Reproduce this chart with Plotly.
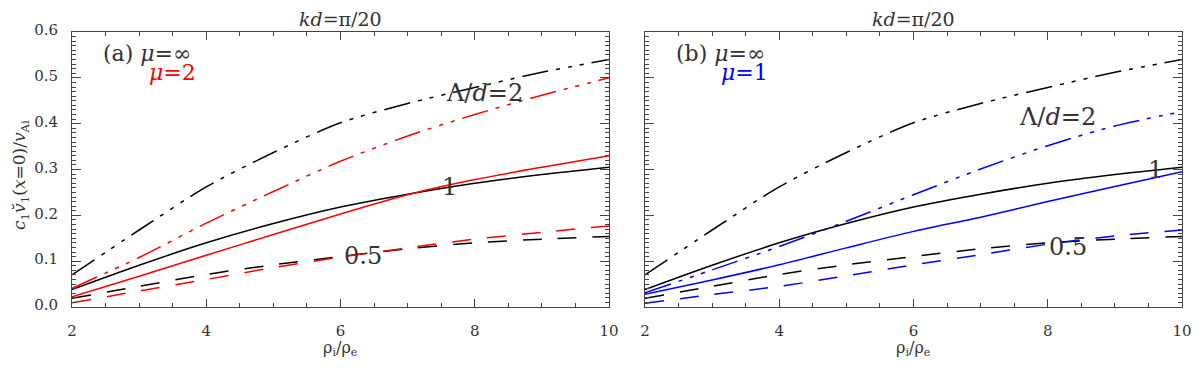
import plotly.graph_objects as go

# rho_i / rho_e samples
rho = [2, 3, 4, 5, 6, 7, 8, 9, 10]

# mu = infinity (black, same in both panels)
inf_l2 = [0.070, 0.168, 0.262, 0.337, 0.402, 0.444, 0.479, 0.512, 0.540]
inf_l1 = [0.038, 0.091, 0.140, 0.182, 0.218, 0.246, 0.270, 0.289, 0.305]
inf_l05 = [0.019, 0.045, 0.071, 0.092, 0.110, 0.127, 0.140, 0.148, 0.154]

# panel (a): mu = 2 (red)
mu2_l2 = [0.041, 0.108, 0.183, 0.252, 0.318, 0.373, 0.420, 0.462, 0.500]
mu2_l1 = [0.0225, 0.067, 0.113, 0.158, 0.203, 0.245, 0.278, 0.305, 0.330]
mu2_l05 = [0.009, 0.035, 0.060, 0.086, 0.109, 0.129, 0.148, 0.163, 0.177]

# panel (b): mu = 1 (blue)
mu1_l2 = [0.031, 0.081, 0.132, 0.187, 0.245, 0.301, 0.352, 0.395, 0.426]
mu1_l1 = [0.028, 0.059, 0.092, 0.129, 0.165, 0.196, 0.230, 0.263, 0.295]
mu1_l05 = [0.008, 0.027, 0.045, 0.068, 0.092, 0.114, 0.137, 0.155, 0.168]

x_ticks = [2, 4, 6, 8, 10]
y_ticks = [0.0, 0.1, 0.2, 0.3, 0.4, 0.5, 0.6]

FONT = "DejaVu Serif"
TXT = "#333333"
EIXO = "#444444"
RED = "#ff0000"
BLUE = "#0000ff"
DASH = "19px,16px"
DASH3DOT = "27px,8px,4px,8px,4px,8px,4px,8px"

fig = go.Figure()


def curva(y, cor, traco, xa, ya, largura=1.5, opacidade=1.0):
    fig.add_trace(go.Scatter(
        x=rho, y=y,
        mode="lines",
        line=dict(color=cor, width=largura, dash=traco, shape="spline", smoothing=0.8),
        opacity=opacidade,
        xaxis=xa, yaxis=ya,
        showlegend=False,
        hoverinfo="skip",
    ))


# painel (a)
curva(inf_l2, "black", DASH3DOT, "x", "y")
curva(inf_l1, "black", "solid", "x", "y")
curva(inf_l05, "black", DASH, "x", "y")
curva(mu2_l2, RED, DASH3DOT, "x", "y")
curva(mu2_l1, RED, "solid", "x", "y")
curva(mu2_l05, RED, DASH, "x", "y")

# painel (b)
curva(inf_l2, "black", DASH3DOT, "x2", "y2")
curva(inf_l1, "black", "solid", "x2", "y2")
curva(inf_l05, "black", DASH, "x2", "y2")
curva(mu1_l2, BLUE, DASH3DOT, "x2", "y2")
curva(mu1_l1, BLUE, "solid", "x2", "y2")
curva(mu1_l05, BLUE, DASH, "x2", "y2")

# tracos invisiveis so para ativar os eixos espelhados (topo/direita)
curva(inf_l1, "black", "solid", "x3", "y3", largura=0, opacidade=0)
curva(inf_l1, "black", "solid", "x4", "y4", largura=0, opacidade=0)

ticks_x = dict(
    range=[2, 10],
    tickvals=x_ticks,
    ticktext=[str(v) for v in x_ticks],
    ticks="inside", ticklen=8, tickcolor=EIXO, tickwidth=1,
    minor=dict(dtick=0.5, tick0=2, ticks="inside", ticklen=4, tickcolor=EIXO),
    showgrid=False, zeroline=False, automargin=False,
)
ticks_y = dict(
    range=[0, 0.6],
    tickvals=y_ticks,
    ticktext=[f"{v:.1f}" for v in y_ticks],
    ticks="inside", ticklen=9, tickcolor=EIXO, tickwidth=1,
    minor=dict(dtick=0.01, tick0=0, ticks="inside", ticklen=4, tickcolor=EIXO),
    showgrid=False, zeroline=False, automargin=False,
)
eixo_x = dict(
    ticks_x,
    showline=True, linecolor=EIXO, linewidth=1, mirror=True,
    tickfont=dict(family=FONT, size=15, color=TXT),
    ticklabelstandoff=10,
)
eixo_y = dict(
    ticks_y,
    showline=True, linecolor=EIXO, linewidth=1, mirror=True,
    tickfont=dict(family=FONT, size=15, color=TXT),
    ticklabelstandoff=10,
    ticklabelshift=-2,
)

DOM_A = [0, 0.4838]
DOM_B = [0.5162, 1]

# a pagina html tem 8px de margem no body: figura menor para caber sem rolagem
fig.update_layout(
    width=1184, height=352,
    margin=dict(l=64, r=10, t=24, b=53),
    paper_bgcolor="white", plot_bgcolor="white",
    xaxis=dict(eixo_x, domain=DOM_A, anchor="y"),
    yaxis=dict(eixo_y, domain=[0, 1], anchor="x"),
    xaxis2=dict(eixo_x, domain=DOM_B, anchor="y2"),
    yaxis2=dict(eixo_y, domain=[0, 1], anchor="x2", showticklabels=False),
    # eixos espelhados (topo / direita) para os ticks menores
    xaxis3=dict(ticks_x, overlaying="x", side="top", anchor="y", showticklabels=False),
    yaxis3=dict(ticks_y, overlaying="y", side="right", anchor="x", showticklabels=False),
    xaxis4=dict(ticks_x, overlaying="x2", side="top", anchor="y2", showticklabels=False),
    yaxis4=dict(ticks_y, overlaying="y2", side="right", anchor="x2", showticklabels=False),
)

anot = []
for xr, yr, nome, cor2, mu2 in [("x", "y", "(a)", RED, "2"), ("x2", "y2", "(b)", BLUE, "1")]:
    # titulo do painel
    anot.append(dict(x=6, y=1.048, xref=xr, yref="paper", text="<i>kd</i>=π/20",
                     showarrow=False, yanchor="middle",
                     font=dict(family=FONT, size=19, color=TXT)))
    # eixo x
    anot.append(dict(x=6, y=-0.15, xref=xr, yref="paper", text="ρ<sub>i</sub>/ρ<sub>e</sub>",
                     showarrow=False, yanchor="middle",
                     font=dict(family=FONT, size=16, color=TXT)))
    anot.append(dict(x=2.43, y=0.553, xref=xr, yref=yr, text=f"{nome} <i>μ</i>=∞",
                     showarrow=False, xanchor="left", yanchor="middle",
                     font=dict(family=FONT, size=22, color=TXT)))
    anot.append(dict(x=3.11, y=0.511, xref=xr, yref=yr, text=f"<i>μ</i>={mu2}",
                     showarrow=False, xanchor="left", yanchor="middle",
                     font=dict(family=FONT, size=22, color=cor2)))

# rotulos das curvas
rotulos = [
    ("x", "y", 8.15, 0.467, "Λ/<i>d</i>=2"),
    ("x", "y", 7.63, 0.262, "1"),
    ("x", "y", 6.33, 0.111, "0.5"),
    ("x2", "y2", 8.15, 0.415, "Λ/<i>d</i>=2"),
    ("x2", "y2", 9.61, 0.299, "1"),
    ("x2", "y2", 8.30, 0.131, "0.5"),
]
for xr, yr, xv, yv, txt in rotulos:
    anot.append(dict(x=xv, y=yv, xref=xr, yref=yr, text=txt, showarrow=False,
                     font=dict(family=FONT, size=24, color=TXT)))

# titulo do eixo y
anot.append(dict(x=-0.0468, y=0.48, xref="paper", yref="paper",
                 xanchor="center", yanchor="middle",
                 text="<i>c</i><sub>1</sub><i>v\u0306</i><sub>1</sub>(<i>x</i>=0)/<i>v</i><sub>Ai</sub>",
                 textangle=-90, showarrow=False,
                 font=dict(family=FONT, size=17, color=TXT)))

fig.update_layout(annotations=anot)
fig.write_html("out.html")
